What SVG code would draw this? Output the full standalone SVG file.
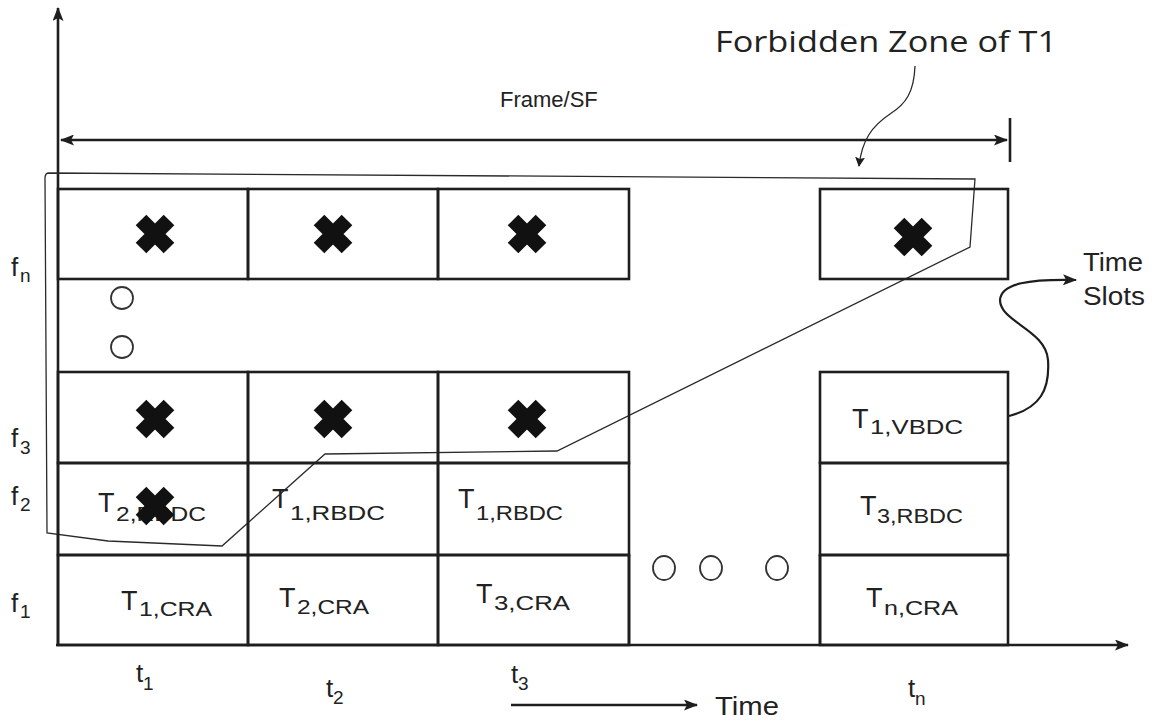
<svg xmlns="http://www.w3.org/2000/svg" xmlns:xlink="http://www.w3.org/1999/xlink" width="1157" height="722" viewBox="0 0 1157 722">
<style>
.cell{fill:none;stroke:#1e1e1e;stroke-width:2.6}
.ax{fill:none;stroke:#1e1e1e;stroke-width:2.6}
.thin{fill:none;stroke:#2a2a2a;stroke-width:1.3}
.curve{fill:none;stroke:#1e1e1e;stroke-width:2.2}
.t{font-family:"Liberation Sans",Arial,sans-serif;fill:#222}
.T{font-size:27px}
.sub{font-size:21px}
.lab{font-size:26px}
.lsub{font-size:19px}
.dot{fill:none;stroke:#333;stroke-width:1.8}
</style>
<defs>
<marker id="ah" viewBox="0 0 14 11" refX="13" refY="5.5" markerWidth="14" markerHeight="11" markerUnits="userSpaceOnUse" orient="auto-start-reverse">
<path d="M0,0 L14,5.5 L0,11 L3,5.5 Z" fill="#1e1e1e"/>
</marker>
<marker id="ahs" viewBox="0 0 10 10" refX="9" refY="5" markerWidth="10" markerHeight="10" markerUnits="userSpaceOnUse" orient="auto">
<path d="M0,0 L10,5 L0,10 L2,5 Z" fill="#1e1e1e"/>
</marker>
<path id="xm" d="M-14,-14 L14,14 M14,-14 L-14,14" stroke="#111" stroke-width="15" stroke-linecap="butt" fill="none"/>
</defs>
<rect width="1157" height="722" fill="#fff"/>

<g id="connectors">
<line class="ax" x1="58" y1="646" x2="58" y2="8" marker-end="url(#ah)"/>
<line class="ax" x1="56" y1="645" x2="1128" y2="645" marker-end="url(#ah)"/>
<line class="ax" x1="61" y1="140" x2="1007" y2="140" marker-start="url(#ah)" marker-end="url(#ah)"/>
<line class="ax" x1="1010" y1="118" x2="1010" y2="162"/>
<line class="ax" x1="511" y1="705" x2="697" y2="705" marker-end="url(#ah)"/>
<path class="thin" d="M915,66 C914,92 906,104 890,114 C872,126 862,140 859,166" marker-end="url(#ahs)"/>
<path class="curve" d="M1009,416 C1040,408 1050,390 1048,360 C1046,330 1000,322 1000,300 C1001,283 1030,279 1076,280" marker-end="url(#ah)"/>
</g>

<g id="zone">
<path class="thin" d="M49,173 L975,179 L970,247 L557,451 L325,454 L222,546 L108,541 L47,533 L45,178 Q45,173 49,173 Z"/>
</g>

<g id="row-fn">
<g id="fn-t1"><rect class="cell" x="58" y="189" width="190" height="90"/><use xlink:href="#xm" x="155" y="234"/></g>
<g id="fn-t2"><rect class="cell" x="248" y="189" width="190" height="90"/><use xlink:href="#xm" x="333" y="234"/></g>
<g id="fn-t3"><rect class="cell" x="438" y="189" width="191" height="90"/><use xlink:href="#xm" x="527" y="234"/></g>
<g id="fn-tn"><rect class="cell" x="820" y="189" width="188" height="90"/><use xlink:href="#xm" x="913" y="237"/></g>
</g>

<g id="gap-dots">
<circle class="dot" cx="122" cy="298" r="11"/>
<circle class="dot" cx="122" cy="347" r="11"/>
</g>

<g id="row-f3">
<g id="f3-t1"><rect class="cell" x="58" y="372" width="190" height="91"/><use xlink:href="#xm" x="155" y="419"/></g>
<g id="f3-t2"><rect class="cell" x="248" y="372" width="190" height="91"/><use xlink:href="#xm" x="333" y="419"/></g>
<g id="f3-t3"><rect class="cell" x="438" y="372" width="191" height="91"/><use xlink:href="#xm" x="527" y="419"/></g>
<g id="f3-tn"><rect class="cell" x="820" y="372" width="188" height="91"/>
<text class="t T" x="852" y="428">T</text><text class="t sub" x="870" y="434" textLength="93" lengthAdjust="spacingAndGlyphs">1,VBDC</text></g>
</g>

<g id="row-f2">
<g id="f2-t1"><rect class="cell" x="58" y="463" width="190" height="92"/>
<text class="t T" x="98" y="512">T</text><text class="t sub" x="116" y="521" textLength="90" lengthAdjust="spacingAndGlyphs">2,RBDC</text>
<use xlink:href="#xm" x="155" y="506"/></g>
<g id="f2-t2"><rect class="cell" x="248" y="463" width="190" height="92"/>
<text class="t T" x="272" y="508">T</text><text class="t sub" x="290" y="520" textLength="95" lengthAdjust="spacingAndGlyphs">1,RBDC</text></g>
<g id="f2-t3"><rect class="cell" x="438" y="463" width="191" height="92"/>
<text class="t T" x="458" y="508">T</text><text class="t sub" x="476" y="520" textLength="87" lengthAdjust="spacingAndGlyphs">1,RBDC</text></g>
<g id="f2-tn"><rect class="cell" x="820" y="463" width="188" height="92"/>
<text class="t T" x="860" y="515">T</text><text class="t sub" x="877" y="523" textLength="86" lengthAdjust="spacingAndGlyphs">3,RBDC</text></g>
</g>

<g id="row-f1">
<g id="f1-t1"><rect class="cell" x="58" y="555" width="190" height="90"/>
<text class="t T" x="121" y="610">T</text><text class="t sub" x="139" y="616" textLength="73" lengthAdjust="spacingAndGlyphs">1,CRA</text></g>
<g id="f1-t2"><rect class="cell" x="248" y="555" width="190" height="90"/>
<text class="t T" x="279" y="607">T</text><text class="t sub" x="297" y="614" textLength="72" lengthAdjust="spacingAndGlyphs">2,CRA</text></g>
<g id="f1-t3"><rect class="cell" x="438" y="555" width="191" height="90"/>
<text class="t T" x="476" y="603">T</text><text class="t sub" x="494" y="610" textLength="76" lengthAdjust="spacingAndGlyphs">3,CRA</text></g>
<g id="f1-gap"><line class="cell" x1="629" y1="555" x2="629" y2="645"/><line class="cell" x1="820" y1="555" x2="820" y2="645"/>
<ellipse class="dot" cx="664" cy="568" rx="11" ry="12"/><ellipse class="dot" cx="711" cy="568" rx="11" ry="12"/><ellipse class="dot" cx="777" cy="568" rx="11" ry="12"/></g>
<g id="f1-tn"><rect class="cell" x="820" y="555" width="188" height="90"/>
<text class="t T" x="866" y="607">T</text><text class="t sub" x="884" y="615" textLength="74" lengthAdjust="spacingAndGlyphs">n,CRA</text></g>
</g>

<g id="labels">
<text class="t" x="500" y="107" font-size="22">Frame/SF</text>
<text x="715" y="52" font-family="'Open Sans','Noto Sans',sans-serif" font-size="30" fill="#222" textLength="342" lengthAdjust="spacingAndGlyphs">Forbidden Zone of T1</text>
<text class="t" x="1083" y="271" font-size="25" textLength="60" lengthAdjust="spacingAndGlyphs">Time</text>
<text class="t" x="1083" y="305" font-size="25" textLength="62" lengthAdjust="spacingAndGlyphs">Slots</text>
<text class="t" x="715" y="715" font-size="25" textLength="64" lengthAdjust="spacingAndGlyphs">Time</text>

<text class="t lab" x="11" y="276">f</text><text class="t lsub" x="20" y="282">n</text>
<text class="t lab" x="11" y="447">f</text><text class="t lsub" x="20" y="454">3</text>
<text class="t lab" x="11" y="505">f</text><text class="t lsub" x="20" y="511">2</text>
<text class="t lab" x="11" y="612">f</text><text class="t lsub" x="20" y="618">1</text>

<text class="t lab" x="136" y="682">t</text><text class="t lsub" x="143" y="690">1</text>
<text class="t lab" x="326" y="697">t</text><text class="t lsub" x="333" y="704">2</text>
<text class="t lab" x="511" y="683">t</text><text class="t lsub" x="518" y="690">3</text>
<text class="t lab" x="908" y="697">t</text><text class="t lsub" x="915" y="705">n</text>
</g>
</svg>
